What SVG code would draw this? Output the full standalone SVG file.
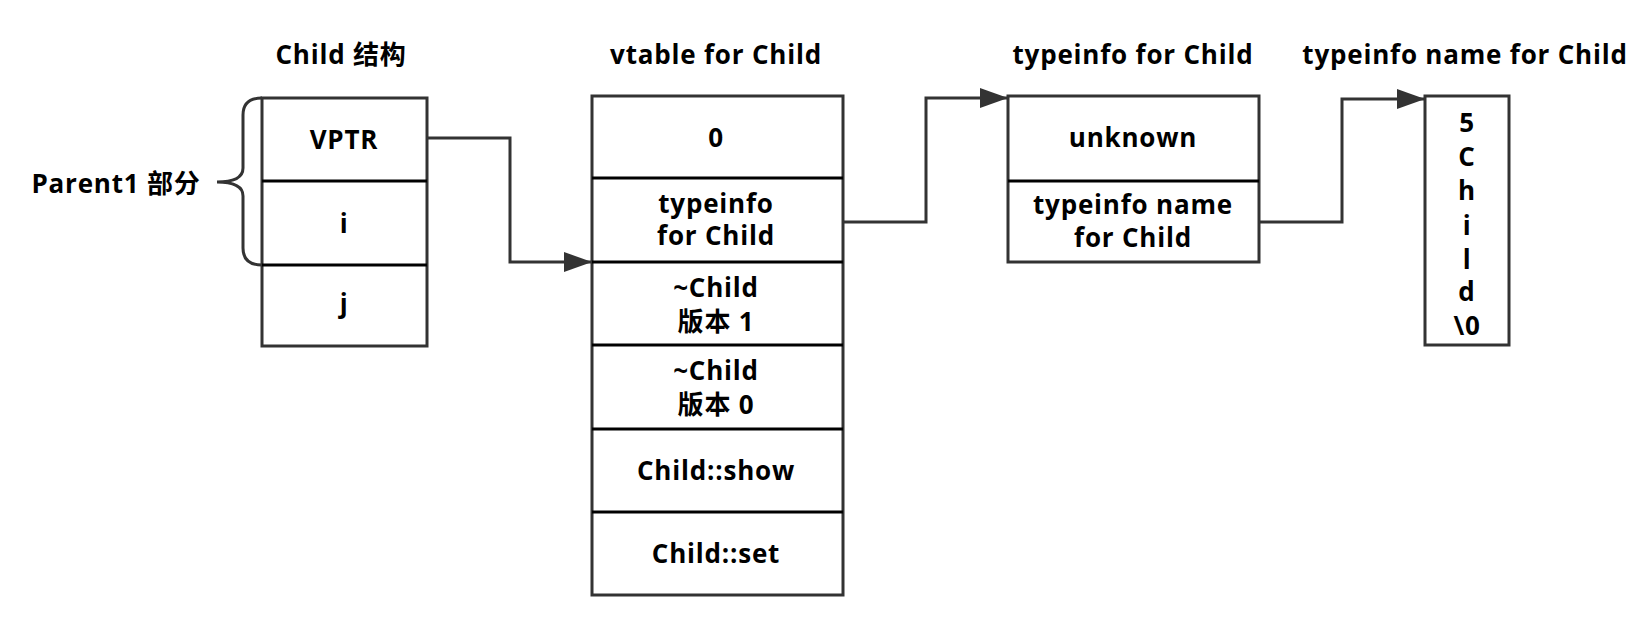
<svg xmlns="http://www.w3.org/2000/svg" width="1649" height="633" viewBox="0 0 1649 633">
<defs>
<style>
text{font-family:"Open Sans","Noto Sans CJK SC",sans-serif;font-weight:bold;font-size:26px;letter-spacing:0.8px;fill:#000;text-anchor:middle}
.box{fill:#fff;stroke:#333;stroke-width:3}
.div{stroke:#000;stroke-width:3}
.conn{fill:none;stroke:#333;stroke-width:3}
</style>
<marker id="arr" markerWidth="28" markerHeight="20" refX="28" refY="10" orient="auto" markerUnits="userSpaceOnUse">
<path d="M0,0 L28,10 L0,20 Z" fill="#333"/>
</marker>
</defs>
<rect width="1649" height="633" fill="#fff"/>
<g id="titles">
<text x="341" y="64">Child 结构</text>
<text x="716" y="64">vtable for Child</text>
<text x="1133" y="64">typeinfo for Child</text>
<text x="1465" y="64">typeinfo name for Child</text>
</g>
<g id="child-struct">
<rect class="box" x="262" y="98" width="165" height="248"/>
<line class="div" x1="262" y1="181" x2="427" y2="181"/>
<line class="div" x1="262" y1="265" x2="427" y2="265"/>
<text x="344" y="149">VPTR</text>
<text x="344" y="233">i</text>
<text x="344" y="313">j</text>
</g>
<g id="parent1-brace">
<path class="conn" d="M262,98 Q243,98 243,115 L243,168 Q243,182 217,182 Q243,182 243,196 L243,248 Q243,265 262,265"/>
<text x="116" y="193">Parent1 部分</text>
</g>
<g id="vtable">
<rect class="box" x="592" y="96" width="251" height="499"/>
<line class="div" x1="592" y1="178" x2="843" y2="178"/>
<line class="div" x1="592" y1="262" x2="843" y2="262"/>
<line class="div" x1="592" y1="345" x2="843" y2="345"/>
<line class="div" x1="592" y1="429" x2="843" y2="429"/>
<line class="div" x1="592" y1="512" x2="843" y2="512"/>
<text x="716" y="147">0</text>
<text x="716" y="213">typeinfo</text>
<text x="716" y="245">for Child</text>
<text x="716" y="297">~Child</text>
<text x="716" y="331">版本 1</text>
<text x="716" y="380">~Child</text>
<text x="716" y="414">版本 0</text>
<text x="716" y="480">Child::show</text>
<text x="716" y="563">Child::set</text>
</g>
<g id="typeinfo">
<rect class="box" x="1008" y="96" width="251" height="166"/>
<line class="div" x1="1008" y1="181" x2="1259" y2="181"/>
<text x="1133" y="147">unknown</text>
<text x="1133" y="214">typeinfo name</text>
<text x="1133" y="247">for Child</text>
</g>
<g id="typeinfo-name">
<rect class="box" x="1425" y="96" width="84" height="249"/>
<text x="1467" y="132">5</text>
<text x="1467" y="166">C</text>
<text x="1467" y="200">h</text>
<text x="1467" y="235">i</text>
<text x="1467" y="269">l</text>
<text x="1467" y="301">d</text>
<text x="1467" y="335">\0</text>
</g>
<g id="connectors">
<path class="conn" d="M427,138 L510,138 L510,262 L592,262" marker-end="url(#arr)"/>
<path class="conn" d="M843,222 L926,222 L926,98 L1008,98" marker-end="url(#arr)"/>
<path class="conn" d="M1259,222 L1342,222 L1342,99 L1425,99" marker-end="url(#arr)"/>
</g>
</svg>
